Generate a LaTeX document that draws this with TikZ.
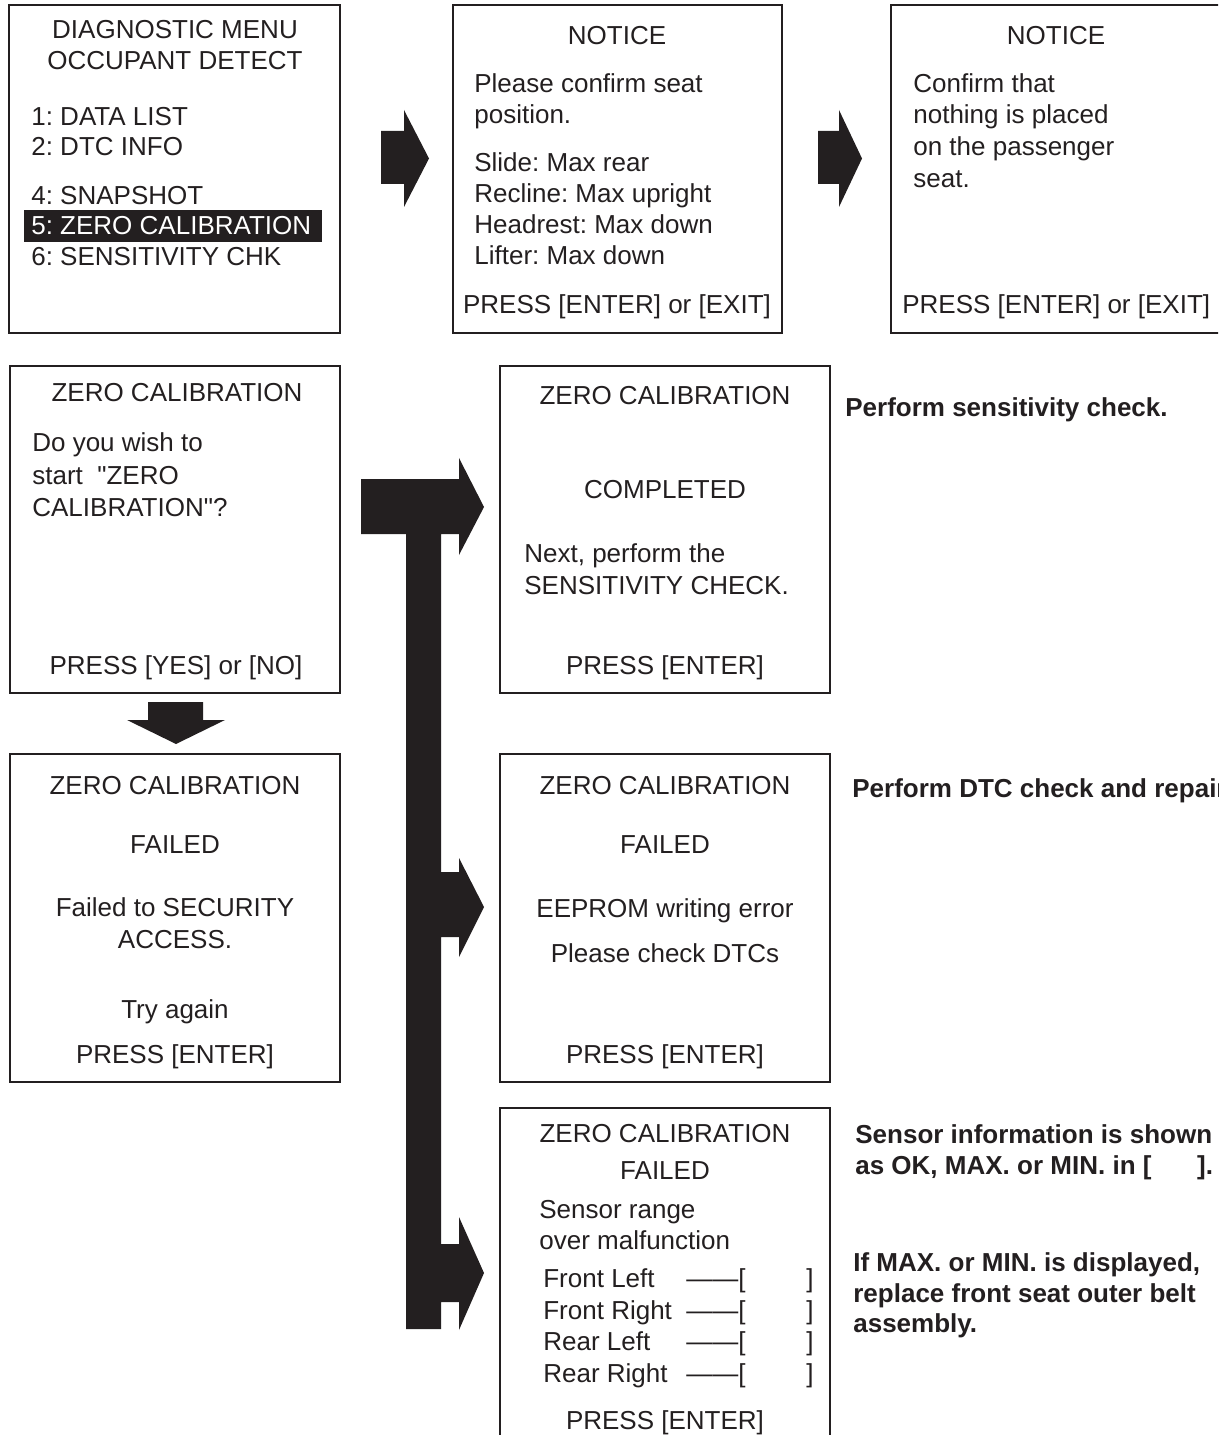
\documentclass[tikz,border=0pt]{standalone}
\usepackage{fontspec}
\setmainfont{Liberation Sans}[Ligatures=TeXOff]
\usepackage{tikz}
\definecolor{ink}{RGB}{35,31,32}
\newcommand{\scr}{\fontsize{14.8}{18}\selectfont\frenchspacing}

\begin{document}
\begin{tikzpicture}[x=0.02cm,y=-0.02cm,
	screen/.style={draw=ink,line width=0.8pt,inner sep=0pt,outer sep=0pt,minimum width=6.6cm,minimum height=6.56cm},
	lt/.style={inner sep=0pt,anchor=base west,text=ink,font=\scr},
	ct/.style={inner sep=0pt,anchor=base,text=ink,font=\scr},
	note/.style={inner sep=0pt,anchor=base west,text=ink,font=\scr\bfseries},
	blk/.style={fill=ink,draw=none}]
	% 画布大小,右边和下边的框被裁掉
	\useasboundingbox (0,0) rectangle (1218,1435);
	\clip (0,0) rectangle (1218,1435);
	
	% 八个屏幕框
	\node[screen,minimum width=6.62cm] (menu) at (174.5,169) {};
	\node[screen,minimum width=6.58cm] (notice) at (617.5,169) {};
	\node[screen,minimum width=6.62cm] (seat) at (1056.5,169) {};
	\node[screen,minimum height=6.54cm] (ask) at (175,529.5) {};
	\node[screen,minimum height=6.54cm] (done) at (665,529.5) {};
	\node[screen] (access) at (175,918) {};
	\node[screen] (eeprom) at (665,918) {};
	\node[screen,minimum height=6.64cm] (range) at (665,1274) {};
	
	% 诊断菜单
	\node[ct] (mt1) at (175,39) {DIAGNOSTIC MENU};
	\node[ct] (mt2) at (175,70) {OCCUPANT DETECT};
	\node[lt] (m1) at (31,126) {1: DATA LIST};
	\node[lt] (m2) at (31,156) {2: DTC INFO};
	\node[lt] (m4) at (31,205) {4: SNAPSHOT};
	\fill[ink] (24,210) rectangle (322,242); % 选中的一行
	\node[lt,text=white] (m5) at (31,235) {5: ZERO CALIBRATION};
	\node[lt] (m6) at (31,266) {6: SENSITIVITY CHK};
	
	% NOTICE 1
	\node[ct] (n1t) at (617,45) {NOTICE};
	\node[lt] (n1a) at (474,93) {Please confirm seat};
	\node[lt] (n1b) at (474,124) {position.};
	\node[lt] (n1c) at (474,172) {Slide: Max rear};
	\node[lt] (n1d) at (474,203) {Recline: Max upright};
	\node[lt] (n1e) at (474,234) {Headrest: Max down};
	\node[lt] (n1f) at (474,265) {Lifter: Max down};
	\node[ct] (n1p) at (617,314) {PRESS [ENTER] or [EXIT]};
	
	% NOTICE 2
	\node[ct] (n2t) at (1056,45) {NOTICE};
	\node[lt] (n2a) at (913,93) {Confirm that};
	\node[lt] (n2b) at (913,124) {nothing is placed};
	\node[lt] (n2c) at (913,156) {on the passenger};
	\node[lt] (n2d) at (913,188) {seat.};
	\node[lt] (n2p) at (902,314) {PRESS [ENTER] or [EXIT]};
	
	% 是否开始
	\node[ct] (q1) at (177,402) {ZERO CALIBRATION};
	\node[lt] (q2) at (32,452) {Do you wish to};
	\node[lt] (q3) at (32,484) {start~~"ZERO};
	\node[lt] (q4) at (32,516) {CALIBRATION"?};
	\node[ct] (q5) at (176,674) {PRESS [YES] or [NO]};
	
	% 完成
	\node[ct] (c1) at (665,405) {ZERO CALIBRATION};
	\node[ct] (c2) at (665,499) {COMPLETED};
	\node[lt] (c3) at (524,562) {Next, perform the};
	\node[lt] (c4) at (524,594) {SENSITIVITY CHECK.};
	\node[ct] (c5) at (665,674) {PRESS [ENTER]};
	
	% 失败:安全访问
	\node[ct] (s1) at (175,794) {ZERO CALIBRATION};
	\node[ct] (s2) at (175,853) {FAILED};
	\node[ct] (s3) at (175,916) {Failed to SECURITY};
	\node[ct] (s4) at (175,948) {ACCESS.};
	\node[ct] (s5) at (175,1018) {Try again};
	\node[ct] (s6) at (175,1063) {PRESS [ENTER]};
	
	% 失败:EEPROM
	\node[ct] (e1) at (665,794) {ZERO CALIBRATION};
	\node[ct] (e2) at (665,853) {FAILED};
	\node[ct] (e3) at (665,917) {EEPROM writing error};
	\node[ct] (e4) at (665,962) {Please check DTCs};
	\node[ct] (e5) at (665,1063) {PRESS [ENTER]};
	
	% 失败:传感器范围
	\node[ct] (r1) at (665,1142) {ZERO CALIBRATION};
	\node[ct] (r2) at (665,1179) {FAILED};
	\node[lt] (r3) at (539,1218) {Sensor range};
	\node[lt] (r4) at (539,1249) {over malfunction};
	\node[lt] (fl) at (543,1287) {Front Left};
	\node[lt] (fr) at (543,1319) {Front Right};
	\node[lt] (rl) at (543,1350) {Rear Left};
	\node[lt] (rr) at (543,1382) {Rear Right};
	\node[ct,anchor=base east] (fl1) at (746,1287) {——[};
	\node[ct,anchor=base east] (fr1) at (746,1319) {——[};
	\node[ct,anchor=base east] (rl1) at (746,1350) {——[};
	\node[ct,anchor=base east] (rr1) at (746,1382) {——[};
	\node[ct,anchor=base east] (fl2) at (814,1287) {]};
	\node[ct,anchor=base east] (fr2) at (814,1319) {]};
	\node[ct,anchor=base east] (rl2) at (814,1350) {]};
	\node[ct,anchor=base east] (rr2) at (814,1382) {]};
	\node[ct] (r5) at (665,1429) {PRESS [ENTER]};
	
	% 右边的说明
	\node[note] (t1) at (845,417) {Perform sensitivity check.};
	\node[note] (t2) at (852,797) {Perform DTC check and repair.};
	\node[note] (t3) at (855,1143) {Sensor information is shown};
	\node[note] (t4) at (855,1174) {as OK, MAX. or MIN. in [\hspace{26pt}].};
	\node[note] (t5) at (853,1271) {If MAX. or MIN. is displayed,};
	\node[note] (t6) at (853,1302) {replace front seat outer belt};
	\node[note] (t7) at (853,1332) {assembly.};
	
	% 粗箭头
	\fill[blk] (381,131) -- (404,131) -- (404,110) -- (429,158.5) -- (404,207) -- (404,184) -- (381,184) -- cycle;
	\fill[blk] (818,131) -- (839,131) -- (839,110) -- (862,158.5) -- (839,207) -- (839,184) -- (818,184) -- cycle;
	\fill[blk] (148,702) -- (203,702) -- (203,720) -- (225,720) -- (176,744) -- (127,720) -- (148,720) -- cycle;
	% 分三路的箭头
	\fill[blk] (361,479) -- (459,479) -- (459,458) -- (484,507) -- (459,555) -- (459,534) -- (441,534)
		-- (441,872) -- (459,872) -- (459,858) -- (484,907) -- (459,957) -- (459,937) -- (441,937)
		-- (441,1244) -- (459,1244) -- (459,1217) -- (484,1273) -- (459,1330) -- (459,1302) -- (441,1302)
		-- (441,1329) -- (406,1329) -- (406,534) -- (361,534) -- cycle;
\end{tikzpicture}
\end{document}
